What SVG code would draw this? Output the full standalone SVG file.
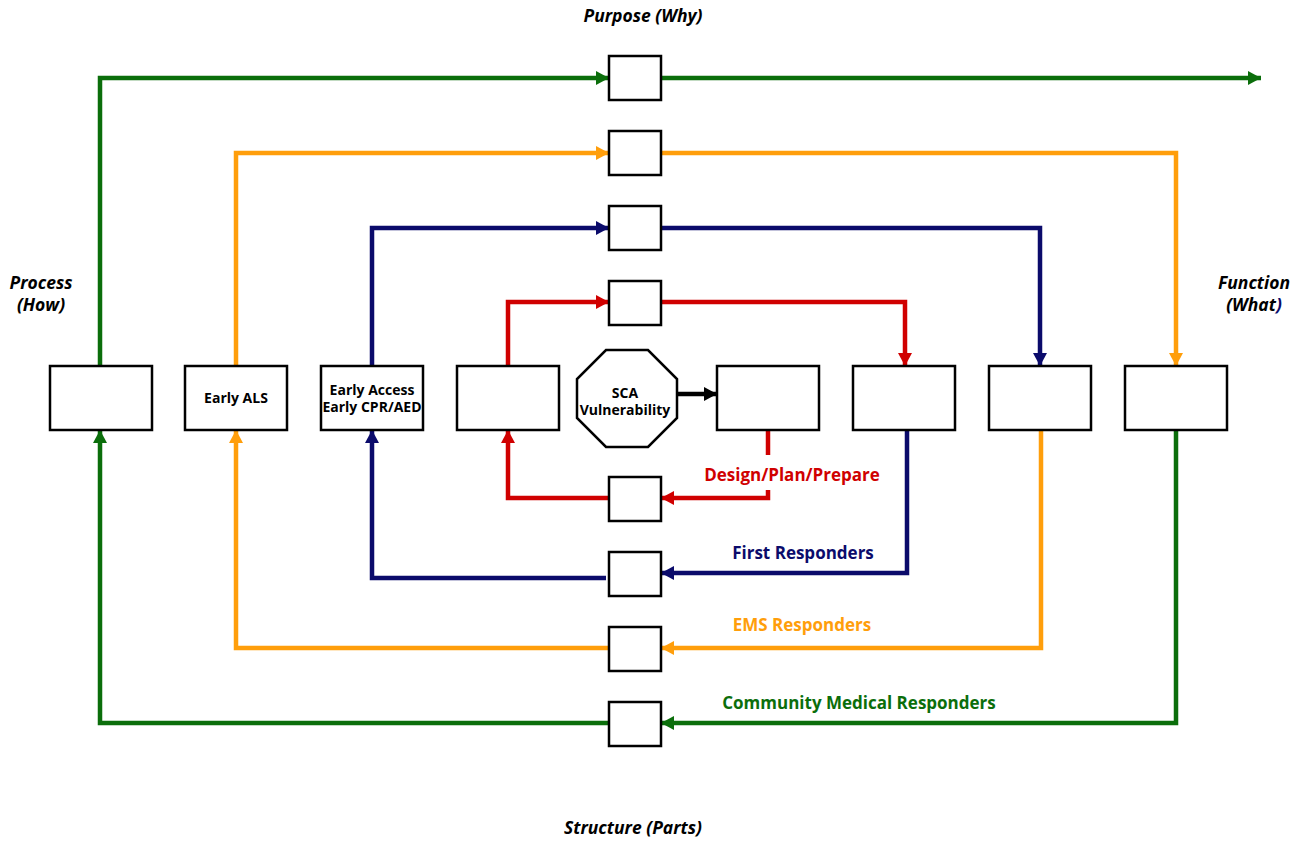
<svg xmlns="http://www.w3.org/2000/svg" width="1311" height="844" viewBox="0 0 1311 844">
<style>
.box{fill:#fff;stroke:#000;stroke-width:2.5}
.c{fill:none;stroke-width:4.5;stroke-linejoin:miter;stroke-linecap:butt}
.g{stroke:#0b6e0b}.o{stroke:#ff9e0b}.n{stroke:#0b0b6b}.r{stroke:#d00000}.k{stroke:#000}
.t{font-family:"Open Sans","DejaVu Sans",sans-serif;font-weight:bold;font-size:14px;fill:#000;text-anchor:middle}
.lab{font-family:"Open Sans","DejaVu Sans",sans-serif;font-weight:bold;font-size:17px;text-anchor:middle}
.ax{font-family:"Open Sans","DejaVu Sans",sans-serif;font-weight:bold;font-style:italic;font-size:17.5px;fill:#000;text-anchor:middle}
</style>
<defs>
<marker id="mg" markerUnits="userSpaceOnUse" markerWidth="14" markerHeight="14" refX="13" refY="7" orient="auto"><path d="M0,0 L13,7 L0,14 z" fill="#0b6e0b"/></marker>
<marker id="mo" markerUnits="userSpaceOnUse" markerWidth="14" markerHeight="14" refX="13" refY="7" orient="auto"><path d="M0,0 L13,7 L0,14 z" fill="#ff9e0b"/></marker>
<marker id="mn" markerUnits="userSpaceOnUse" markerWidth="14" markerHeight="14" refX="13" refY="7" orient="auto"><path d="M0,0 L13,7 L0,14 z" fill="#0b0b6b"/></marker>
<marker id="mr" markerUnits="userSpaceOnUse" markerWidth="14" markerHeight="14" refX="13" refY="7" orient="auto"><path d="M0,0 L13,7 L0,14 z" fill="#d00000"/></marker>
<marker id="mk" markerUnits="userSpaceOnUse" markerWidth="14" markerHeight="14" refX="13" refY="7" orient="auto"><path d="M0,0 L13,7 L0,14 z" fill="#000"/></marker>
</defs>

<g id="connectors">
<!-- green -->
<path class="c g" d="M100,366 V78 H609" marker-end="url(#mg)"/>
<path class="c g" d="M661,78 H1261" marker-end="url(#mg)"/>
<path class="c g" d="M1176,430 V723 H661" marker-end="url(#mg)"/>
<path class="c g" d="M609,723 H100 V430" marker-end="url(#mg)"/>
<!-- orange -->
<path class="c o" d="M236,366 V153 H609" marker-end="url(#mo)"/>
<path class="c o" d="M661,153 H1176 V366" marker-end="url(#mo)"/>
<path class="c o" d="M1041,430 V648 H661" marker-end="url(#mo)"/>
<path class="c o" d="M609,648 H236 V430" marker-end="url(#mo)"/>
<!-- navy -->
<path class="c n" d="M372,366 V228 H609" marker-end="url(#mn)"/>
<path class="c n" d="M661,228 H1040 V366" marker-end="url(#mn)"/>
<path class="c n" d="M907,430 V573 H661" marker-end="url(#mn)"/>
<path class="c n" d="M606,578 H372 V430" marker-end="url(#mn)"/>
<!-- red -->
<path class="c r" d="M508,366 V302 H609" marker-end="url(#mr)"/>
<path class="c r" d="M661,302 H905 V366" marker-end="url(#mr)"/>
<path class="c r" d="M768,430 V455"/>
<path class="c r" d="M768,490 V498 H661" marker-end="url(#mr)"/>
<path class="c r" d="M609,498 H508 V430" marker-end="url(#mr)"/>
<!-- black -->
<path class="c k" d="M678,394 H717" marker-end="url(#mk)"/>
</g>

<g id="purpose-boxes">
<rect class="box" x="609" y="56" width="52" height="44"/>
<rect class="box" x="609" y="131" width="52" height="44"/>
<rect class="box" x="609" y="206" width="52" height="44"/>
<rect class="box" x="609" y="281" width="52" height="44"/>
</g>
<g id="structure-boxes">
<rect class="box" x="609" y="477" width="52" height="44"/>
<rect class="box" x="609" y="552" width="52" height="44"/>
<rect class="box" x="609" y="627" width="52" height="44"/>
<rect class="box" x="609" y="702" width="52" height="44"/>
</g>

<g id="node-process"><rect class="box" x="50" y="366" width="102" height="64"/></g>
<g id="node-early-als"><rect class="box" x="185" y="366" width="102" height="64"/><text class="t" x="236" y="403">Early ALS</text></g>
<g id="node-early-access"><rect class="box" x="321" y="366" width="102" height="64"/><text class="t" x="372" y="395">Early Access</text><text class="t" x="372" y="412">Early CPR/AED</text></g>
<g id="node-red-left"><rect class="box" x="457" y="366" width="102" height="64"/></g>
<g id="node-sca"><polygon class="box" points="606,350 648,350 677,379 677,418 648,447 606,447 577,418 577,379"/><text class="t" x="625" y="398">SCA</text><text class="t" x="625" y="415">Vulnerability</text></g>
<g id="node-design"><rect class="box" x="717" y="366" width="102" height="64"/></g>
<g id="node-first"><rect class="box" x="853" y="366" width="102" height="64"/></g>
<g id="node-ems"><rect class="box" x="989" y="366" width="102" height="64"/></g>
<g id="node-function"><rect class="box" x="1125" y="366" width="102" height="64"/></g>

<g id="labels">
<text class="lab" x="792" y="481" fill="#d00000">Design/Plan/Prepare</text>
<text class="lab" x="803" y="559" fill="#0b0b6b">First Responders</text>
<text class="lab" x="802" y="631" fill="#ff9e0b">EMS Responders</text>
<text class="lab" x="859" y="709" fill="#0b6e0b">Community Medical Responders</text>
<text class="ax" x="643" y="22">Purpose (Why)</text>
<text class="ax" x="41" y="289">Process</text>
<text class="ax" x="41" y="311">(How)</text>
<text class="ax" x="1254" y="289">Function</text>
<text class="ax" x="1254" y="311">(What<tspan fill="#0b0b6b">)</tspan></text>
<text class="ax" x="633" y="834">Structure (Parts)</text>
</g>
</svg>
